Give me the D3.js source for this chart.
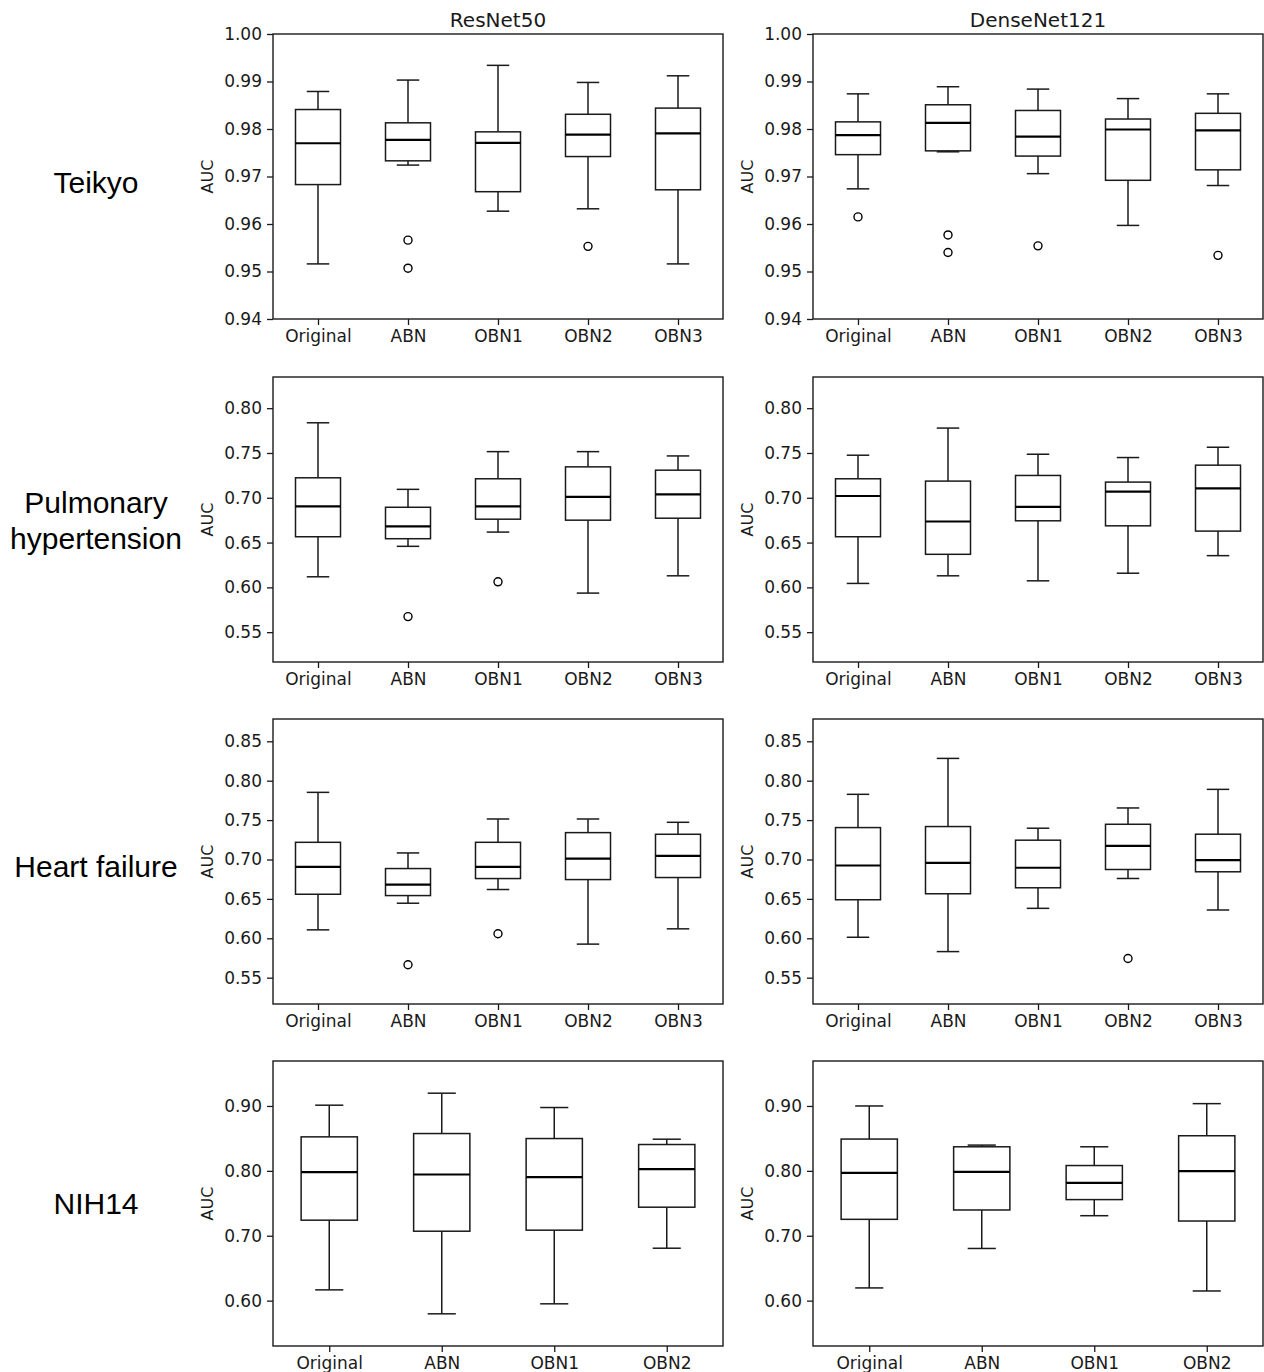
<!DOCTYPE html>
<html>
<head>
<meta charset="utf-8">
<script src="https://cdn.jsdelivr.net/npm/d3@7"></script>
<style>
  body { margin: 0; background: #fff; }
  svg { display: block; }
</style>
</head>
<body>
<div id="chart"></div>
<script>
// categories
const cats5 = ['Original', 'ABN', 'OBN1', 'OBN2', 'OBN3'];
const cats4 = ['Original', 'ABN', 'OBN1', 'OBN2'];
const models = ['ResNet50', 'DenseNet121'];
const datasets = ['Teikyo', 'Pulmonary\nhypertension', 'Heart failure', 'NIH14'];

// box stats per category: [whiskerLow, q1, median, q3, whiskerHigh]
const teikyoRes = [
  [0.9516, 0.9683, 0.9770, 0.9841, 0.9879],
  [0.9724, 0.9733, 0.9777, 0.9813, 0.9903],
  [0.9627, 0.9668, 0.9771, 0.9794, 0.9934],
  [0.9632, 0.9742, 0.9788, 0.9831, 0.9898],
  [0.9516, 0.9672, 0.9791, 0.9844, 0.9912]
];
const teikyoResOut = [[], [0.9566, 0.9507], [], [0.9553], []];

const teikyoDense = [
  [0.9674, 0.9746, 0.9787, 0.9815, 0.9874],
  [0.9752, 0.9754, 0.9813, 0.9851, 0.9889],
  [0.9706, 0.9743, 0.9784, 0.9839, 0.9884],
  [0.9597, 0.9692, 0.9799, 0.9821, 0.9864],
  [0.9681, 0.9714, 0.9797, 0.9833, 0.9874]
];
const teikyoDenseOut = [[0.9615], [0.9577, 0.9540], [0.9554], [], [0.9534]];

const phRes = [
  [0.6118, 0.6565, 0.6905, 0.7223, 0.7837],
  [0.6458, 0.6543, 0.6680, 0.6894, 0.7094],
  [0.6617, 0.6761, 0.6905, 0.7212, 0.7515],
  [0.5936, 0.6750, 0.7009, 0.7345, 0.7515],
  [0.6129, 0.6772, 0.7038, 0.7308, 0.7467]
];
const phResOut = [[], [0.5674], [0.6062], [], []];

const phDense = [
  [0.6044, 0.6565, 0.7020, 0.7212, 0.7475],
  [0.6129, 0.6369, 0.6735, 0.7186, 0.7778],
  [0.6073, 0.6743, 0.6898, 0.7249, 0.7486],
  [0.6158, 0.6687, 0.7068, 0.7175, 0.7449],
  [0.6354, 0.6628, 0.7105, 0.7364, 0.7564]
];
const phDenseOut = [[], [], [], [], []];

const hfRes = [
  [0.6107, 0.6559, 0.6906, 0.7218, 0.7852],
  [0.6445, 0.6542, 0.6682, 0.6885, 0.7083],
  [0.6619, 0.6758, 0.6906, 0.7218, 0.7514],
  [0.5926, 0.6745, 0.7011, 0.7341, 0.7514],
  [0.6120, 0.6771, 0.7045, 0.7320, 0.7472]
];
const hfResOut = [[], [0.5664], [0.6057], [], []];

const hfDense = [
  [0.6013, 0.6489, 0.6924, 0.7405, 0.7827],
  [0.5831, 0.6565, 0.6958, 0.7418, 0.8283],
  [0.6380, 0.6641, 0.6895, 0.7245, 0.7397],
  [0.6759, 0.6873, 0.7173, 0.7447, 0.7654],
  [0.6359, 0.6844, 0.6992, 0.7321, 0.7890]
];
const hfDenseOut = [[], [], [], [0.5743], []];

const nihRes = [
  [0.6166, 0.7240, 0.7979, 0.8524, 0.9012],
  [0.5797, 0.7070, 0.7944, 0.8575, 0.9197],
  [0.5951, 0.7086, 0.7902, 0.8498, 0.8976],
  [0.6808, 0.7440, 0.8026, 0.8406, 0.8488]
];
const nihResOut = [[], [], [], []];

const nihDense = [
  [0.6196, 0.7253, 0.7969, 0.8490, 0.9000],
  [0.6804, 0.7397, 0.7985, 0.8371, 0.8397],
  [0.7309, 0.7557, 0.7814, 0.8082, 0.8371],
  [0.6149, 0.7227, 0.7995, 0.8541, 0.9036]
];
const nihDenseOut = [[], [], [], []];

// y ranges and tick labels per row
const yDomains = [[0.94, 1.0], [0.5167, 0.8348], [0.5166, 0.8783], [0.5301, 0.9693]];
const yTicks = [
  [0.94, 0.95, 0.96, 0.97, 0.98, 0.99, 1.00],
  [0.55, 0.60, 0.65, 0.70, 0.75, 0.80],
  [0.55, 0.60, 0.65, 0.70, 0.75, 0.80, 0.85],
  [0.60, 0.70, 0.80, 0.90]
];

const rows = [
  { cats: cats5, stats: [teikyoRes, teikyoDense], outs: [teikyoResOut, teikyoDenseOut] },
  { cats: cats5, stats: [phRes, phDense], outs: [phResOut, phDenseOut] },
  { cats: cats5, stats: [hfRes, hfDense], outs: [hfResOut, hfDenseOut] },
  { cats: cats4, stats: [nihRes, nihDense], outs: [nihResOut, nihDenseOut] }
];

// layout
const W = 1264;
const H = 1372;
const panelW = 450;
const panelH = 285;
const colX = [273, 813];
const rowY = [34, 377, 719, 1061];
const labelBase = [[193], [513, 549], [877], [1214]];
const ink = '#1a1a1a';
const tickFont = '"DejaVu Sans", sans-serif';

const svg = d3.select('#chart').append('svg')
  .attr('width', W)
  .attr('height', H);

// column titles
models.forEach((m, j) => {
  svg.append('text')
    .attr('x', colX[j] + panelW / 2)
    .attr('y', 27)
    .attr('text-anchor', 'middle')
    .style('font-family', tickFont)
    .style('font-size', '20px')
    .attr('fill', ink)
    .text(m);
});

// row labels
datasets.forEach((name, i) => {
  const t = svg.append('text')
    .attr('text-anchor', 'middle')
    .style('font-family', '"Liberation Sans", Arial, sans-serif')
    .style('font-size', '30px')
    .attr('fill', '#000');
  name.split('\n').forEach((line, k) => {
    t.append('tspan')
      .attr('x', 96)
      .attr('y', labelBase[i][k])
      .text(line);
  });
});

rows.forEach((row, i) => {
  const y = d3.scaleLinear().domain(yDomains[i]).range([panelH, 0]);
  const x = d3.scalePoint().domain(row.cats).range([0, panelW]).padding(0.5);
  const boxW = x.step() * 0.5;
  const capW = boxW * 0.5;

  models.forEach((m, j) => {
    const g = svg.append('g')
      .attr('transform', `translate(${colX[j]},${rowY[i]})`);

    // y axis
    const ya = g.append('g')
      .call(d3.axisLeft(y).tickValues(yTicks[i]).tickSize(6).tickPadding(5)
        .tickFormat(d3.format('.2f')));
    ya.select('.domain').remove();
    ya.selectAll('line').attr('stroke', ink).attr('stroke-width', 1.3);
    ya.selectAll('text')
      .attr('fill', ink)
      .style('font-family', tickFont)
      .style('font-size', '17px');

    // x axis
    const xa = g.append('g')
      .attr('transform', `translate(0,${panelH})`)
      .call(d3.axisBottom(x).tickSize(6).tickPadding(5));
    xa.select('.domain').remove();
    xa.selectAll('line').attr('stroke', ink).attr('stroke-width', 1.3);
    xa.selectAll('text')
      .attr('fill', ink)
      .style('font-family', tickFont)
      .style('font-size', '17px');

    // AUC label
    g.append('text')
      .attr('transform', `translate(-60,${panelH / 2}) rotate(-90)`)
      .attr('text-anchor', 'middle')
      .style('font-family', tickFont)
      .style('font-size', '16px')
      .attr('fill', ink)
      .text('AUC');

    // boxes
    const data = row.stats[j].map((s, k) => ({ cat: row.cats[k], s: s, out: row.outs[j][k] }));
    const box = g.selectAll('g.box').data(data).enter().append('g')
      .attr('class', 'box')
      .attr('transform', d => `translate(${x(d.cat)},0)`);

    // whiskers
    box.append('line')
      .attr('x1', 0).attr('x2', 0)
      .attr('y1', d => y(d.s[0])).attr('y2', d => y(d.s[1]))
      .attr('stroke', ink).attr('stroke-width', 1.5);
    box.append('line')
      .attr('x1', 0).attr('x2', 0)
      .attr('y1', d => y(d.s[3])).attr('y2', d => y(d.s[4]))
      .attr('stroke', ink).attr('stroke-width', 1.5);
    // caps
    box.append('line')
      .attr('x1', -capW / 2).attr('x2', capW / 2)
      .attr('y1', d => y(d.s[0])).attr('y2', d => y(d.s[0]))
      .attr('stroke', ink).attr('stroke-width', 1.5);
    box.append('line')
      .attr('x1', -capW / 2).attr('x2', capW / 2)
      .attr('y1', d => y(d.s[4])).attr('y2', d => y(d.s[4]))
      .attr('stroke', ink).attr('stroke-width', 1.5);
    // box
    box.append('rect')
      .attr('x', -boxW / 2)
      .attr('width', boxW)
      .attr('y', d => y(d.s[3]))
      .attr('height', d => y(d.s[1]) - y(d.s[3]))
      .attr('fill', 'none')
      .attr('stroke', ink).attr('stroke-width', 1.5);
    // median
    box.append('line')
      .attr('x1', -boxW / 2).attr('x2', boxW / 2)
      .attr('y1', d => y(d.s[2])).attr('y2', d => y(d.s[2]))
      .attr('stroke', '#000').attr('stroke-width', 2.2);
    // fliers
    box.selectAll('circle').data(d => d.out).enter().append('circle')
      .attr('cx', 0)
      .attr('cy', d => y(d))
      .attr('r', 4)
      .attr('fill', 'none')
      .attr('stroke', '#000').attr('stroke-width', 1.4);

    // frame
    g.append('rect')
      .attr('width', panelW)
      .attr('height', panelH)
      .attr('fill', 'none')
      .attr('stroke', ink)
      .attr('stroke-width', 1.4);
  });
});
</script>
</body>
</html>
